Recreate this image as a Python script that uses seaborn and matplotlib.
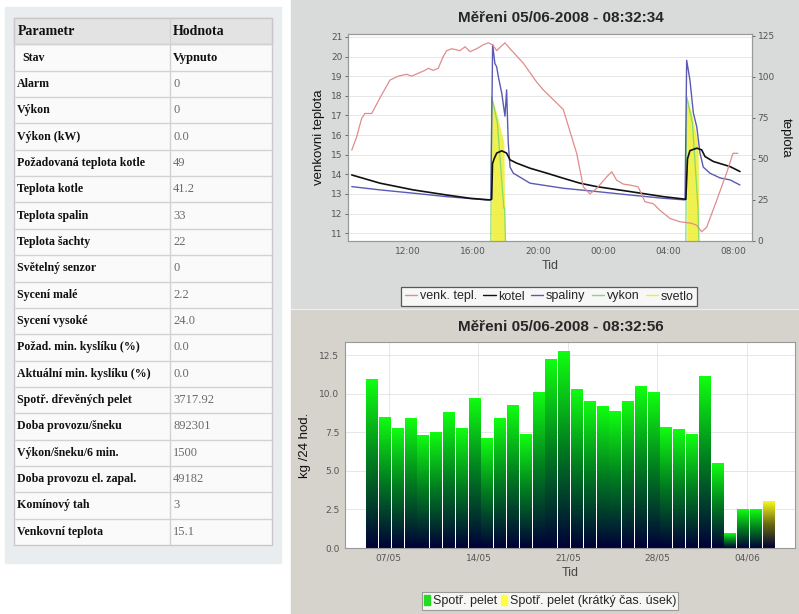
import matplotlib
matplotlib.use("Agg")
import matplotlib.pyplot as plt
import seaborn as sns
import numpy as np
import pandas as pd
from matplotlib.patches import Rectangle
from matplotlib.lines import Line2D
from matplotlib.colors import LinearSegmentedColormap

# ---- table data ----
param_names = ["Stav", "Alarm", "Výkon", "Výkon (kW)", "Požadovaná teplota kotle",
               "Teplota kotle", "Teplota spalin", "Teplota šachty", "Světelný senzor",
               "Sycení malé", "Sycení vysoké", "Požad. min. kyslíku (%)",
               "Aktuální min. kyslíku (%)", "Spotř. dřevěných pelet", "Doba provozu/šneku",
               "Výkon/šneku/6 min.", "Doba provozu el. zapal.", "Komínový tah",
               "Venkovní teplota"]
param_values = ["Vypnuto", "0", "0", "0.0", "49", "41.2", "33", "22", "0", "2.2", "24.0",
                "0.0", "0.0", "3717.92", "892301", "1500", "49182", "3", "15.1"]

# ---- top chart data (hours after 08:00 on 04/06) ----
venk_h = [0.54, 0.84, 1.15, 1.35, 1.77, 2.28, 2.89, 3.40, 3.92, 4.23, 4.63, 5.05, 5.25,
          5.56, 5.86, 6.17, 6.38, 6.69, 7.2, 7.51, 7.82, 8.23, 8.63, 8.94, 9.21, 9.46,
          9.7, 9.97, 10.28, 11.1, 11.92, 12.33, 13.56, 14.38, 14.79, 15.2, 15.61, 16.23,
          16.54, 16.84, 17.25, 17.66, 18.17, 18.58, 19.1, 19.5, 20.12, 20.74, 21.46,
          21.77, 22.07, 22.38, 23.0, 23.6, 24.0, 24.3]
venk_v = [15.23, 15.9, 16.85, 17.1, 17.1, 17.9, 18.8, 19.0, 19.1, 19.0, 19.15, 19.3, 19.4,
          19.3, 19.4, 20.0, 20.3, 20.4, 20.3, 20.5, 20.25, 20.4, 20.6, 20.7, 20.6, 20.3,
          20.5, 20.7, 20.4, 19.66, 18.7, 18.3, 17.3, 15.07, 13.36, 13.0, 13.28, 13.87,
          14.13, 13.7, 13.5, 13.45, 13.36, 12.6, 12.5, 12.17, 11.75, 11.58, 11.5,
          11.4, 11.07, 11.3, 12.68, 14.05, 15.07, 15.07]

kotel_h = [0.54, 2.28, 4.33, 6.38, 7.82, 9.05, 9.15, 9.2, 9.3, 9.46, 9.77, 10.07, 10.28,
           10.69, 11.51, 12.54, 13.56, 14.58, 15.61, 17.66, 19.71, 21.1, 21.2, 21.35,
           21.77, 22.07, 22.28, 22.79, 23.82, 24.43]
kotel_v = [40.2, 35.2, 31.1, 28.0, 26.0, 25.0, 25.5, 47.0, 50.0, 53.5, 54.9, 53.5, 49.4,
           47.4, 44.3, 41.3, 38.2, 35.2, 33.1, 30.1, 27.0, 25.4, 50.0, 55.0, 56.5, 55.5,
           51.4, 48.4, 45.3, 42.3]

spal_h = [0.54, 2.28, 4.33, 6.38, 8.84, 9.1, 9.21, 9.35, 9.46, 9.56, 9.77, 9.97, 10.07,
          10.17, 10.28, 10.48, 11.51, 13.56, 15.61, 17.66, 19.71, 21.05, 21.15, 21.35,
          21.56, 21.77, 21.97, 22.17, 22.58, 23.2, 23.82, 24.43]
spal_v = [33.1, 31.1, 29.1, 27.0, 25.0, 25.2, 119.5, 108.0, 106.0, 100.0, 90.0, 76.0,
          92.0, 60.0, 45.0, 41.3, 35.2, 32.1, 30.1, 28.0, 26.0, 25.0, 110.0, 98.0, 78.0,
          69.5, 53.6, 45.0, 41.3, 38.4, 37.2, 34.1]

# vykon is 0 outside the two burns; only the burns are listed
vykon_h = [9.1, 9.15, 9.5, 9.9, 9.95, 10.0, 21.1, 21.15, 21.5, 21.85, 21.9]
vykon_v = [0, 88, 72, 20, 20, 0, 0, 88, 72, 20, 0]
vykon_burn = [1, 1, 1, 1, 1, 1, 2, 2, 2, 2, 2]

svetlo_h = [9.15, 9.45, 9.7, 9.9, 9.97, 21.15, 21.45, 21.7, 21.85, 21.9]
svetlo_v = [88, 78, 68, 60, 0, 88, 78, 66, 58, 0]

time_ticks = ["12:00", "16:00", "20:00", "00:00", "04:00", "08:00"]

# ---- bottom chart data ----
days = ["06/05", "07/05", "08/05", "09/05", "10/05", "11/05", "12/05", "13/05", "14/05",
        "15/05", "16/05", "17/05", "18/05", "19/05", "20/05", "21/05", "22/05", "23/05",
        "24/05", "25/05", "26/05", "27/05", "28/05", "29/05", "30/05", "31/05", "01/06",
        "02/06", "03/06", "04/06", "05/06", "06/06"]
pelet = [10.95, 8.51, 7.76, 8.4, 7.33, 7.54, 8.79, 7.76, 9.74, 7.11, 8.4, 9.27, 7.39,
         10.13, 12.28, 12.76, 10.34, 9.55, 9.2, 8.88, 9.55, 10.5, 10.09, 7.82, 7.69,
         7.37, 11.14, 5.5, 0.97, 2.52, 2.52, 3.06]
series = ["Spotř. pelet"] * 31 + ["Spotř. pelet (krátký čas. úsek)"]
date_labels = ["07/05", "14/05", "21/05", "28/05", "04/06"]

W, H = 799, 614
fig = plt.figure(figsize=(W / 100, H / 100), dpi=100)
sans = ["Liberation Sans", "DejaVu Sans"]
serif = ["Liberation Serif", "DejaVu Serif"]


def fr(x0, y0, x1, y1):
    return [x0 / W, 1 - y1 / H, (x1 - x0) / W, (y1 - y0) / H]


# background canvas in pixel coords
bg = fig.add_axes([0, 0, 1, 1], zorder=-10)
bg.set_xlim(0, W)
bg.set_ylim(H, 0)
bg.axis("off")
bg.add_patch(Rectangle((5, 7), 276, 556, color="#eaedef"))
bg.add_patch(Rectangle((291, 0), 508, 308, color="#d9dbdb"))
bg.add_patch(Rectangle((291, 310), 508, 304, color="#d6d3cc"))

# table
t_left, t_right, t_top, t_bot, t_mid = 14, 272, 18, 545, 170
row_h = (t_bot - t_top) / (len(param_names) + 1)
bg.add_patch(Rectangle((t_left, t_top), t_right - t_left, t_bot - t_top,
                       facecolor="#fafafa", edgecolor="#c8c8c8", lw=1))
bg.add_patch(Rectangle((t_left, t_top), t_right - t_left, row_h,
                       facecolor="#e3e3e3", edgecolor="#c8c8c8", lw=1))
for i in range(1, len(param_names) + 1):
    y = t_top + i * row_h
    bg.plot([t_left, t_right], [y, y], color="#d2d2d2", lw=1)
bg.plot([t_mid, t_mid], [t_top, t_bot], color="#d2d2d2", lw=1)
bg.text(t_left + 4, t_top + row_h / 2, "Parametr", family=serif, weight="bold",
        fontsize=10, va="center", color="#111111")
bg.text(t_mid + 3, t_top + row_h / 2, "Hodnota", family=serif, weight="bold",
        fontsize=10, va="center", color="#111111")
for i, (n, v) in enumerate(zip(param_names, param_values)):
    yc = t_top + (i + 1.5) * row_h
    indent = 8 if i == 0 else 3
    bg.text(t_left + indent, yc, n, family=serif, weight="bold", fontsize=8.6,
            va="center", color="#111111")
    if i == 0:
        bg.text(t_mid + 3, yc, v, family=serif, weight="bold", fontsize=9, va="center",
                color="#111111")
    else:
        bg.text(t_mid + 3, yc, v, family=serif, fontsize=9, va="center", color="#6a6a6a")

sns.set_style("white")
grid_c = "#e2e2e2"
tick_c = "#555555"

# ---- top chart ----
ax1 = fig.add_axes(fr(348, 34, 752, 241))
ax2 = ax1.twinx()
ax2.fill_between(svetlo_h[:5], 0, svetlo_v[:5], color="#eeee30", alpha=0.85, lw=0)
ax2.fill_between(svetlo_h[5:], 0, svetlo_v[5:], color="#eeee30", alpha=0.85, lw=0)
sns.lineplot(x=vykon_h, y=vykon_v, units=vykon_burn, ax=ax2, color="#86dc6a", lw=0.9,
             estimator=None)
sns.lineplot(x=spal_h, y=spal_v, ax=ax2, color="#5a5ab4", lw=1.0, estimator=None)
sns.lineplot(x=kotel_h, y=kotel_v, ax=ax2, color="#111111", lw=1.2, estimator=None)
sns.lineplot(x=venk_h, y=venk_v, ax=ax1, color="#e08c8c", lw=0.9, estimator=None)
ax1.set_zorder(ax2.get_zorder() + 1)
ax1.patch.set_visible(False)
ax2.patch.set_visible(True)
ax2.patch.set_facecolor("white")
ax1.set_xlim(0.31, 25.17)
ax1.set_ylim(10.6, 21.15)
ax2.set_ylim(0, 126)
ax1.set_xticks([4, 8, 12, 16, 20, 24])
ax1.set_xticklabels(time_ticks)
ax1.set_yticks(range(11, 22))
ax2.set_yticks([0, 25, 50, 75, 100, 125])
for ax in (ax1, ax2):
    ax.tick_params(labelsize=6.5, colors=tick_c, length=2, width=0.6, pad=2)
    for s in ax.spines.values():
        s.set_color("#999999")
        s.set_linewidth(0.8)
ax1.grid(False)
ax2.xaxis.grid(True, color=grid_c, lw=0.6)
ax2.yaxis.grid(False)
ax2.set_axisbelow(True)
# horizontal gridlines for the left ticks, drawn on the lower (white) axes
for v in range(11, 22):
    ax2.axhline((v - 10.6) / (21.15 - 10.6) * 126, color=grid_c, lw=0.6, zorder=0)
ax1.set_xlabel("Tid", fontsize=9, family=sans, color="#444444", labelpad=3)
ax1.set_ylabel("venkovni teplota", fontsize=9.5, family=sans, color="#111111", labelpad=4)
ax2.set_ylabel("teplota", fontsize=9.5, family=sans, color="#111111", rotation=-90,
               labelpad=12)
fig.text(561 / W, 1 - 18 / H, "Měřeni 05/06-2008 - 08:32:34", ha="center", va="center",
         family=sans, weight="bold", fontsize=11)

top_handles = [Line2D([], [], color=c, lw=1) for c in
               ["#e08c8c", "#111111", "#5a5ab4", "#86dc6a", "#eeee30"]]
leg1 = fig.legend(top_handles, ["venk. tepl.", "kotel", "spaliny", "vykon", "svetlo"],
                  loc="center", bbox_to_anchor=(549 / W, 1 - 296.5 / H), ncol=5,
                  frameon=True, fancybox=False, edgecolor="#333333",
                  handlelength=1.0, handletextpad=0.2, columnspacing=0.5,
                  borderpad=0.3, borderaxespad=0, prop={"family": sans, "size": 9})
leg1.get_frame().set_linewidth(0.9)

# ---- bottom chart ----
df = pd.DataFrame({"day": days, "kg": pelet, "serie": series})
ax3 = fig.add_axes(fr(345, 342, 795, 548))
ax3.set_facecolor("white")
sns.barplot(data=df, x="day", y="kg", hue="serie", dodge=False, width=0.93, ax=ax3,
            palette={"Spotř. pelet": "#00ff00",
                     "Spotř. pelet (krátký čas. úsek)": "#ffff00"},
            legend=False, saturation=1)
grad = np.linspace(0, 1, 256).reshape(-1, 1)
cm_green = LinearSegmentedColormap.from_list("g", ["#000038", "#007a20", "#10ff10"])
cm_yellow = LinearSegmentedColormap.from_list("y", ["#000038", "#6a6a10", "#ffff20"])
for p in list(ax3.patches):
    h = p.get_height()
    if not np.isfinite(h) or h <= 0:
        continue
    x0 = p.get_x()
    w = p.get_width()
    fc = p.get_facecolor()
    cm = cm_yellow if fc[0] > 0.5 else cm_green
    im = ax3.imshow(grad, extent=[x0, x0 + w, 0, h], origin="lower", aspect="auto",
                    cmap=cm, zorder=2)
    im.set_clip_path(p)
    p.set_facecolor("none")
    p.set_edgecolor("none")
ax3.set_xlim(-2.13, 33.05)
ax3.set_ylim(0, 13.36)
ax3.set_xticks([days.index(d) + 0.3 for d in date_labels])
ax3.set_xticklabels(date_labels)
ax3.set_yticks([0, 2.5, 5, 7.5, 10, 12.5])
ax3.set_yticklabels(["0.0", "2.5", "5.0", "7.5", "10.0", "12.5"])
ax3.grid(True, color=grid_c, lw=0.6)
ax3.set_axisbelow(True)
ax3.tick_params(labelsize=6.5, colors=tick_c, length=2, width=0.6, pad=2)
for s in ax3.spines.values():
    s.set_color("#999999")
    s.set_linewidth(0.8)
ax3.set_xlabel("Tid", fontsize=9, family=sans, color="#444444", labelpad=3)
ax3.set_ylabel("kg /24 hod.", fontsize=9.5, family=sans, color="#111111", labelpad=6)
fig.text(561 / W, 1 - 327 / H, "Měřeni 05/06-2008 - 08:32:56", ha="center", va="center",
         family=sans, weight="bold", fontsize=11)

bot_handles = [Rectangle((0, 0), 1, 1, color="#22dd22"),
               Rectangle((0, 0), 1, 1, color="#ffff40")]
leg2 = fig.legend(bot_handles, ["Spotř. pelet", "Spotř. pelet (krátký čas. úsek)"],
                  loc="center", bbox_to_anchor=(550 / W, 1 - 601 / H), ncol=2,
                  frameon=True, fancybox=False, edgecolor="#888888",
                  handlelength=0.5, handleheight=0.9, handletextpad=0.2, columnspacing=0.3,
                  borderpad=0.2, borderaxespad=0, prop={"family": sans, "size": 9})
leg2.get_frame().set_linewidth(0.8)

fig.savefig("out.png", dpi=100)
